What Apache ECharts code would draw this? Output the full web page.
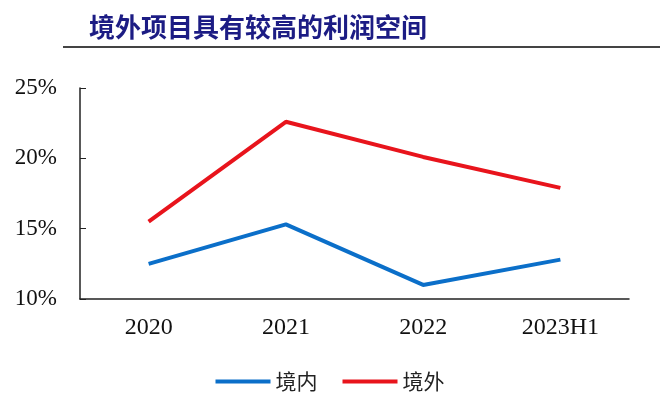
<!DOCTYPE html>
<html>
<head>
<meta charset="utf-8">
<script src="https://cdn.jsdelivr.net/npm/echarts@6/dist/echarts.min.js"></script>
<style>
  html, body { margin: 0; padding: 0; background: #fff; }
  #main { width: 660px; height: 401px; }
</style>
</head>
<body>
<div id="main"></div>
<script>
// 数据
var categories = ['2020', '2021', '2022', '2023H1'];
var domestic = [12.5, 15.3, 11.0, 12.8];   // 境内
var overseas = [15.5, 22.6, 20.1, 17.9];   // 境外
var yTicks = [10, 15, 20, 25];

var chart = echarts.init(document.getElementById('main'), null, { renderer: 'canvas' });

var option = {
  backgroundColor: '#fff',
  animation: false,
  title: {
    text: '境外项目具有较高的利润空间',
    left: 84,
    top: 9,
    textStyle: {
      color: '#1c1c84',
      fontSize: 26,
      fontWeight: 'bold',
      fontFamily: 'Noto Sans CJK SC',
      rich: {}
    }
  },
  graphic: [{
    type: 'line',
    shape: { x1: 63, y1: 47, x2: 660, y2: 47 },
    style: { stroke: '#444', lineWidth: 2 }
  }],
  legend: {
    top: 366,
    left: 'center',
    itemWidth: 55,
    itemHeight: 4,
    itemGap: 25,
    icon: 'rect',
    textStyle: { fontSize: 21, color: '#222', fontFamily: 'Noto Sans CJK SC' },
    data: ['境内', '境外']
  },
  grid: { left: 80, right: 31, top: 88, bottom: 102 },
  xAxis: {
    type: 'category',
    data: categories,
    boundaryGap: true,
    axisLine: { lineStyle: { color: '#222', width: 1.5 } },
    axisTick: { inside: true, length: 6, lineStyle: { color: '#222' } },
    axisLabel: { fontSize: 24, color: '#111', fontFamily: 'Liberation Serif', margin: 17 }
  },
  yAxis: {
    type: 'value',
    min: yTicks[0],
    max: yTicks[yTicks.length - 1],
    interval: 5,
    splitLine: { show: false },
    axisLine: { show: true, lineStyle: { color: '#222', width: 1.5 } },
    axisTick: { show: true, inside: true, length: 6, lineStyle: { color: '#222' } },
    axisLabel: {
      fontSize: 23, color: '#111', fontFamily: 'Liberation Serif', margin: 23,
      formatter: function (v) { return v + '%'; }
    }
  },
  series: [
    {
      name: '境内',
      type: 'line',
      data: domestic,
      symbol: 'none',
      itemStyle: { color: '#0b6fc9' },
      lineStyle: { color: '#0b6fc9', width: 4 }
    },
    {
      name: '境外',
      type: 'line',
      data: overseas,
      symbol: 'none',
      itemStyle: { color: '#e8141c' },
      lineStyle: { color: '#e8141c', width: 4 }
    }
  ]
};

chart.setOption(option);
</script>
</body>
</html>
